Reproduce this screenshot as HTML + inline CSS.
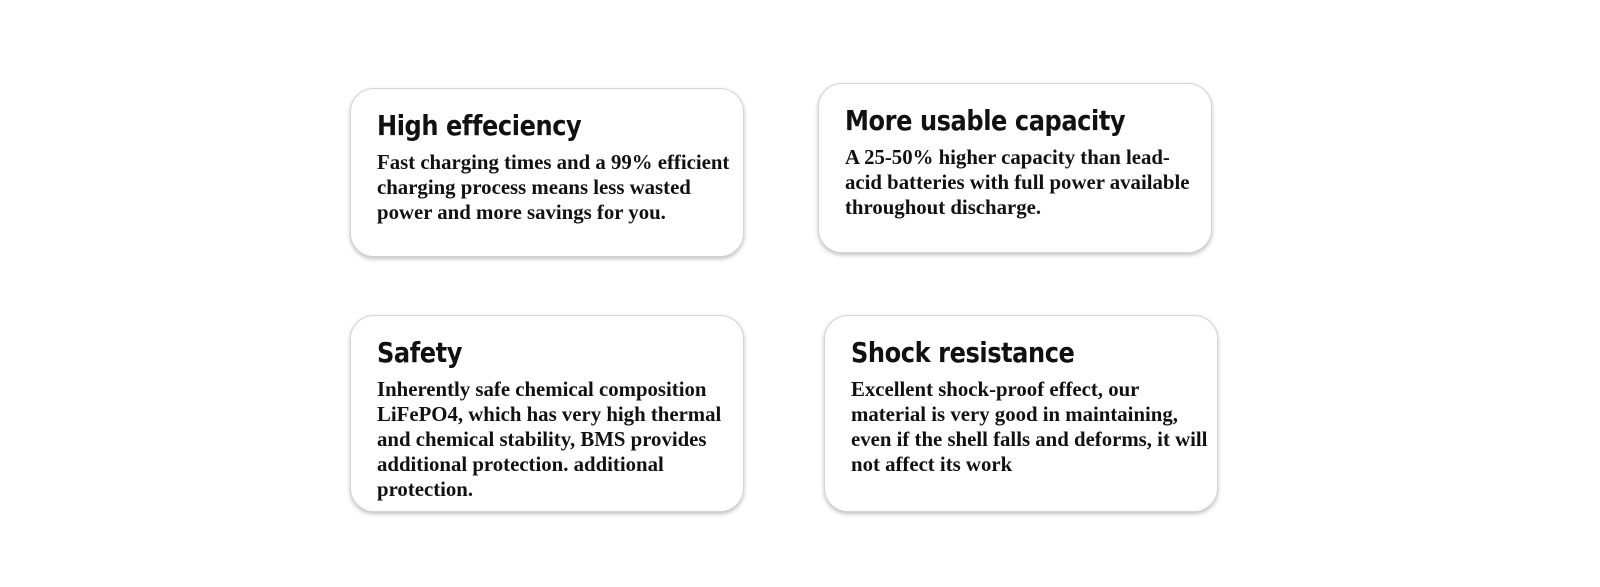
<!DOCTYPE html>
<html><head><style>
body{margin:0;width:1600px;height:587px;background:#fff;position:relative;overflow:hidden}
.c{position:absolute;width:394px;border:1px solid #d4d4d4;border-radius:24px;background:#fff;box-shadow:0 2px 4px rgba(0,0,0,.25);box-sizing:border-box}
.t{position:absolute;left:26px;font:bold 28px "DejaVu Sans","Liberation Sans",sans-serif;letter-spacing:-0.5px;color:#111;white-space:nowrap;transform:scaleX(0.86);transform-origin:left}
.b{position:absolute;left:26px;font:bold 20.8px/25px "Liberation Serif",serif;color:#111;white-space:nowrap}
</style></head><body>
<div class="c" style="left:350px;top:88px;height:169px">
<div class="t" style="top:20px">High effeciency</div>
<div class="b" style="top:61px">Fast charging times and a 99% efficient<br>charging process means less wasted<br>power and more savings for you.</div></div>
<div class="c" style="left:818px;top:83px;height:170px">
<div class="t" style="top:20px">More usable capacity</div>
<div class="b" style="top:61px">A 25-50% higher capacity than lead-<br>acid batteries with full power available<br>throughout discharge.</div></div>
<div class="c" style="left:350px;top:315px;height:197px">
<div class="t" style="top:20px">Safety</div>
<div class="b" style="top:61px">Inherently safe chemical composition<br>LiFePO4, which has very high thermal<br>and chemical stability, BMS provides<br>additional protection. additional<br>protection.</div></div>
<div class="c" style="left:824px;top:315px;height:197px">
<div class="t" style="top:20px">Shock resistance</div>
<div class="b" style="top:61px">Excellent shock-proof effect, our<br>material is very good in maintaining,<br>even if the shell falls and deforms, it will<br>not affect its work</div></div>
</body></html>
